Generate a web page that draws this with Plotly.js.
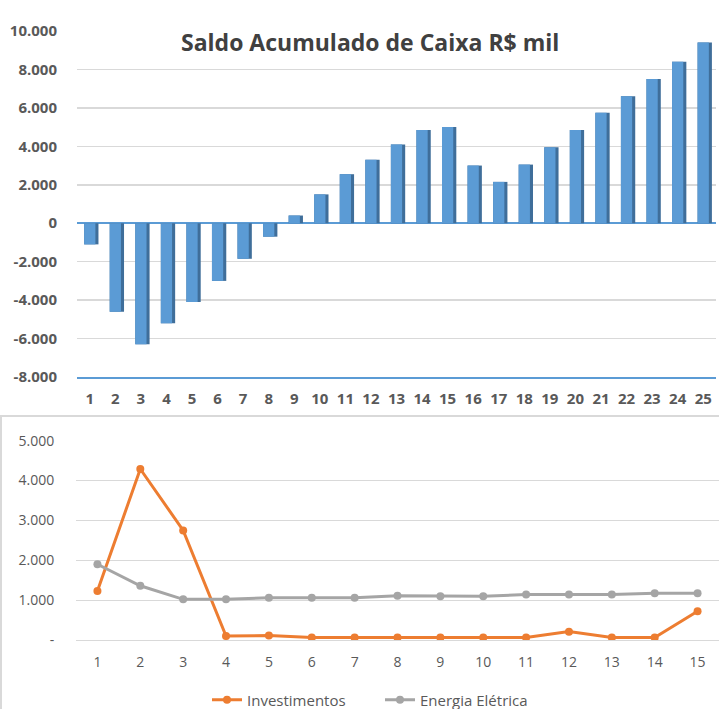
<!DOCTYPE html>
<html>
<head>
<meta charset="utf-8">
<script src="https://cdn.plot.ly/plotly-3.0.1.min.js"></script>
<style>html,body{margin:0;padding:0;background:#fff;}#chart{width:719px;height:709px;}</style>
</head>
<body>
<div id="chart"></div>
<script>
// ---- Top chart data ----
const periodos = [1,2,3,4,5,6,7,8,9,10,11,12,13,14,15,16,17,18,19,20,21,22,23,24,25];
const saldoAcumulado = [-1100,-4600,-6300,-5200,-4100,-3000,-1850,-700,400,1500,2550,3300,4100,4850,5000,3000,2150,3050,3950,4850,5750,6600,7500,8400,9400];
const saldoTickVals = [-8000,-6000,-4000,-2000,0,2000,4000,6000,8000,10000];
const saldoTickText = ["-8.000","-6.000","-4.000","-2.000","0","2.000","4.000","6.000","8.000","10.000"];

// ---- Bottom chart data ----
const anos = [1,2,3,4,5,6,7,8,9,10,11,12,13,14,15];
const investimentos = [1230,4290,2750,100,110,60,60,60,60,60,60,210,60,60,720];
const energiaEletrica = [1900,1360,1020,1020,1060,1060,1060,1110,1100,1100,1140,1140,1140,1170,1170];
const custoTickVals = [0,1000,2000,3000,4000,5000];
const custoTickText = ["-","1.000","2.000","3.000","4.000","5.000"];

const H = 709, W = 719;
const py = p => 1 - p / H;
const px = p => p / W;

const traces = [
  { type:'bar', x: periodos, y: saldoAcumulado, xaxis:'x', yaxis:'y',
    marker:{color:'#3F6E9A'}, width:0.56, offset:-0.22, showlegend:false, hoverinfo:'skip' },
  { type:'bar', x: periodos, y: saldoAcumulado, xaxis:'x', yaxis:'y',
    marker:{color:'#5B9BD5'}, width:0.44, offset:-0.22, showlegend:false }
  ,
  { type:'scatter', mode:'lines+markers', name:'Investimentos', x: anos, y: investimentos,
    xaxis:'x2', yaxis:'y2', line:{color:'#ED7D31', width:3}, marker:{color:'#ED7D31', size:8} },
  { type:'scatter', mode:'lines+markers', name:'Energia Elétrica', x: anos, y: energiaEletrica,
    xaxis:'x2', yaxis:'y2', line:{color:'#A5A5A5', width:3}, marker:{color:'#A5A5A5', size:8} }
];

const topTickFont = {family:'Open Sans, sans-serif', size:15, color:'#595959', weight:'bold'};
const botTickFont = {family:'Open Sans, sans-serif', size:14, color:'#595959'};

const layout = {
  width: W, height: H,
  margin:{l:0,r:0,t:0,b:0, autoexpand:false},
  paper_bgcolor:'#fff', plot_bgcolor:'rgba(0,0,0,0)',
  barmode:'overlay',
  showlegend:true,
  legend:{orientation:'h', x:px(380), xanchor:'center', y:py(700), yanchor:'middle',
          entrywidth:128, entrywidthmode:'pixels',
          font:{family:'Open Sans, sans-serif', size:15, color:'#595959'}, bgcolor:'rgba(0,0,0,0)'},
  xaxis:{domain:[px(77), px(716)], range:[0.5,25.5], anchor:'y',
         tickvals: periodos, ticktext: periodos.map(String), tickfont: topTickFont,
         showgrid:false, showline:true, linecolor:'#5B9BD5', linewidth:2,
         ticks:'outside', ticklen:7, tickcolor:'rgba(0,0,0,0)', zeroline:false, fixedrange:true},
  yaxis:{domain:[py(377), py(31)], range:[-8000,10000], anchor:'x',
         tickvals: saldoTickVals, ticktext: saldoTickText, tickfont: topTickFont,
         showgrid:true, gridcolor:'#D9D9D9', gridwidth:1.5,
         zeroline:true, zerolinecolor:'#5B9BD5', zerolinewidth:2,
         showline:false, ticks:'outside', ticklen:16, tickcolor:'rgba(0,0,0,0)', fixedrange:true},
  xaxis2:{domain:[px(76), 1], range:[0.5,15.5], anchor:'y2',
          tickvals: anos, ticktext: anos.map(String), tickfont: botTickFont,
          showgrid:false, showline:false, zeroline:false,
          ticks:'outside', ticklen:9, tickcolor:'rgba(0,0,0,0)', fixedrange:true},
  yaxis2:{domain:[py(640), py(440.7)], range:[0,5000], anchor:'x2',
          tickvals: custoTickVals, ticktext: custoTickText, tickfont: botTickFont,
          showgrid:true, gridcolor:'#D9D9D9', gridwidth:1,
          zeroline:true, zerolinecolor:'#D9D9D9', zerolinewidth:1,
          ticks:'outside', ticklen:18, tickcolor:'rgba(0,0,0,0)', fixedrange:true},
  shapes:[
    {type:'rect', xref:'paper', yref:'paper', x0:px(1), x1:px(730), y0:py(720), y1:py(416),
     line:{color:'#D9D9D9', width:2}, fillcolor:'rgba(0,0,0,0)', layer:'below'}
  ],
  annotations:[
    {text:'Saldo Acumulado de Caixa R$ mil', xref:'paper', yref:'paper',
     x:px(370), y:py(42), xanchor:'center', yanchor:'middle', showarrow:false,
     font:{family:'Open Sans, sans-serif', size:23, color:'#404040', weight:'bold'}}
  ]
};

Plotly.newPlot('chart', traces, layout, {displayModeBar:false, staticPlot:true});
</script>
</body>
</html>
